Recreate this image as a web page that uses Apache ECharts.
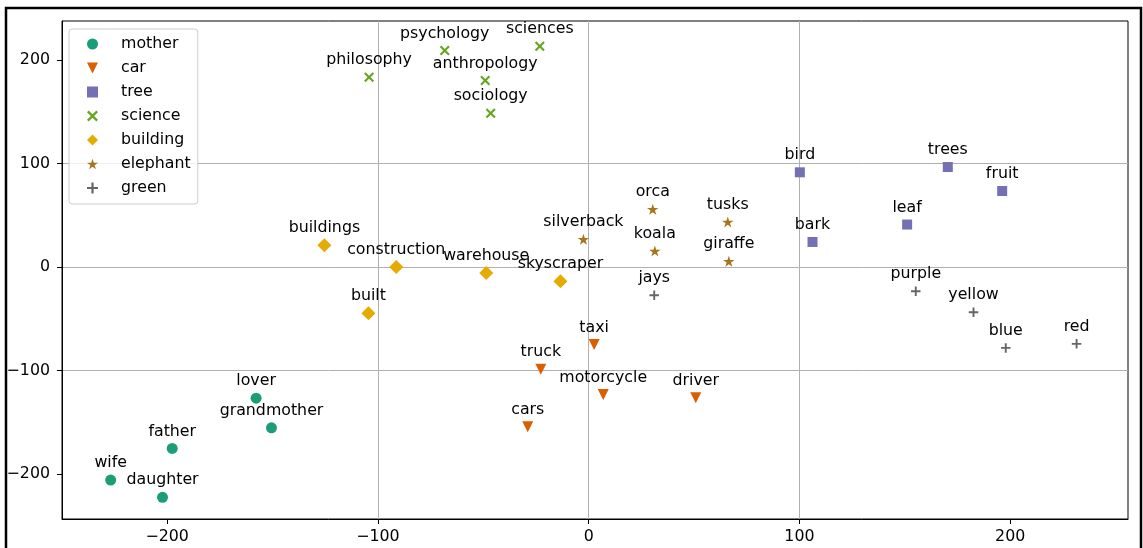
<!DOCTYPE html>
<html><head><meta charset="utf-8">
<script src="https://cdn.jsdelivr.net/npm/echarts@6/dist/echarts.min.js"></script>
<style>html,body{margin:0;padding:0;background:#fff}#c{width:1143px;height:548px}</style>
</head><body><div id="c"></div>
<script>
// ---- data ----
const xTicks = [-200, -100, 0, 100, 200];
const yTicks = [-200, -100, 0, 100, 200];

const seriesNames = ['mother', 'car', 'tree', 'science', 'building', 'elephant', 'green'];

const motherWords = ['lover', 'grandmother', 'father', 'wife', 'daughter'];
const motherX = [-157.8, -150.5, -197.6, -226.8, -202.2];
const motherY = [-126.5, -155.1, -175.0, -205.5, -222.2];

const carWords = ['taxi', 'truck', 'motorcycle', 'driver', 'cars'];
const carX = [2.6, -22.7, 6.9, 50.8, -28.9];
const carY = [-74.7, -98.5, -122.9, -126.2, -154.1];

const treeWords = ['bird', 'trees', 'fruit', 'leaf', 'bark'];
const treeX = [100.2, 170.4, 196.2, 151.1, 106.2];
const treeY = [91.4, 96.5, 73.4, 41.0, 24.2];

const scienceWords = ['psychology', 'sciences', 'anthropology', 'sociology', 'philosophy'];
const scienceX = [-68.3, -23.2, -49.1, -46.5, -104.2];
const scienceY = [209.0, 213.1, 180.0, 148.5, 183.2];

const buildingWords = ['warehouse', 'skyscraper', 'construction', 'buildings', 'built'];
const buildingX = [-48.6, -13.4, -91.3, -125.4, -104.5];
const buildingY = [-5.7, -13.7, 0.1, 21.0, -44.5];

const elephantWords = ['orca', 'tusks', 'silverback', 'koala', 'giraffe'];
const elephantX = [30.4, 66.0, -2.5, 31.4, 66.5];
const elephantY = [55.7, 43.5, 26.8, 15.5, 5.6];

const greenWords = ['purple', 'yellow', 'blue', 'red', 'jays'];
const greenX = [155.2, 182.6, 197.9, 231.5, 31.1];
const greenY = [-23.3, -43.6, -78.0, -74.1, -27.2];

// ---- styles ----
const X_PATH = 'path://M1.5,0 L5,3.5 L8.5,0 L10,1.5 L6.5,5 L10,8.5 L8.5,10 L5,6.5 L1.5,10 L0,8.5 L3.5,5 L0,1.5 Z';
const PLUS_PATH = 'path://M4,0 L6,0 L6,4 L10,4 L10,6 L6,6 L6,10 L4,10 L4,6 L0,6 L0,4 L4,4 Z';
const STAR_PATH = 'path://M10,0 L12.245,6.91 L19.511,6.91 L13.633,11.18 L15.878,18.09 L10,13.82 L4.122,18.09 L6.367,11.18 L0.489,6.91 L7.755,6.91 Z';
const TRI_DOWN_PATH = 'path://M0,0 L10,0 L5,10 Z';
const SQUARE_PATH = 'path://M0,0 L10,0 L10,10 L0,10 Z';
const DIAMOND_PATH = 'path://M5,0 L10,5 L5,10 L0,5 Z';

const groups = [
  {words: motherWords, xs: motherX, ys: motherY, color: '#1b9e77', symbol: 'circle', size: 11},
  {words: carWords, xs: carX, ys: carY, color: '#d95f02', symbol: TRI_DOWN_PATH, size: 11},
  {words: treeWords, xs: treeX, ys: treeY, color: '#7570b3', symbol: SQUARE_PATH, size: 10},
  {words: scienceWords, xs: scienceX, ys: scienceY, color: '#66a61e', symbol: X_PATH, size: 10},
  {words: buildingWords, xs: buildingX, ys: buildingY, color: '#e6ab02', symbol: DIAMOND_PATH, size: 14},
  {words: elephantWords, xs: elephantX, ys: elephantY, color: '#a6761d', symbol: STAR_PATH, size: 11.5},
  {words: greenWords, xs: greenX, ys: greenY, color: '#666666', symbol: PLUS_PATH, size: 9.5}
];

const FONT = 'DejaVu Sans';
const FS = 15.8;
const fmt = v => String(v).replace('-', '\u2212');

const series = groups.map((g, k) => ({
  type: 'scatter',
  name: seriesNames[k],
  symbol: g.symbol,
  symbolSize: g.size,
  symbolKeepAspect: true,
  itemStyle: {color: g.color, opacity: 1},
  label: {
    show: true, position: 'inside', offset: [0, -17], formatter: '{b}',
    color: '#000', fontSize: FS, fontFamily: FONT
  },
  emphasis: {disabled: true},
  data: g.words.map((w, i) => ({name: w, value: [g.xs[i], g.ys[i]]}))
}));

const chart = echarts.init(document.getElementById('c'), null, {renderer: 'canvas'});
chart.setOption({
  animation: false,
  backgroundColor: '#fff',
  textStyle: {fontFamily: FONT},
  grid: {left: 62, right: 15, top: 21, bottom: 29, show: true, borderColor: '#000', borderWidth: 1, backgroundColor: 'transparent'},
  xAxis: {
    type: 'value', min: -249.9, max: 255.9,
    axisLine: {show: true, onZero: false, lineStyle: {color: '#000', width: 1}},
    axisTick: {show: true, length: 5, customValues: xTicks, lineStyle: {color: '#000', width: 1}},
    axisLabel: {customValues: xTicks, formatter: fmt, fontSize: FS, color: '#000', margin: 10, fontFamily: FONT},
    splitLine: {show: true, showMinLine: false, showMaxLine: false, lineStyle: {color: '#b0b0b0', width: 1}}
  },
  yAxis: {
    type: 'value', min: -243.1, max: 237.4,
    axisLine: {show: true, onZero: false, lineStyle: {color: '#000', width: 1}},
    axisTick: {show: true, length: 5, customValues: yTicks, lineStyle: {color: '#000', width: 1}},
    axisLabel: {customValues: yTicks, formatter: fmt, fontSize: FS, color: '#000', margin: 12, fontFamily: FONT},
    splitLine: {show: true, showMinLine: false, showMaxLine: false, lineStyle: {color: '#b0b0b0', width: 1}}
  },
  legend: {
    orient: 'vertical', left: 69, top: 29, padding: [7, 7, 8, 18],
    itemWidth: 11, itemHeight: 11, itemGap: 8,
    backgroundColor: 'rgba(255,255,255,0.8)', borderColor: '#cccccc', borderWidth: 1, borderRadius: 3,
    textStyle: {fontSize: FS, color: '#000', lineHeight: 15, fontFamily: FONT, padding: [0, 0, 0, 18]},
    data: seriesNames
  },
  graphic: [{
    type: 'rect', silent: true, z: 100,
    shape: {x: 6, y: 8, width: 1135, height: 600},
    style: {fill: null, stroke: '#000', lineWidth: 2.5}
  }],
  series: series
});
</script>
</body></html>
